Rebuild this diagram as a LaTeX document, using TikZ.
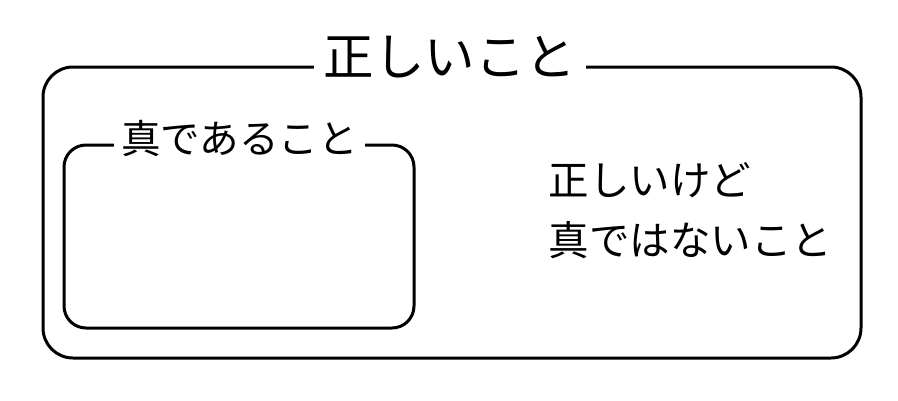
\documentclass[tikz,border=0pt]{standalone}
\usepackage{fontspec}
\setmainfont{Noto Sans CJK JP}
\usetikzlibrary{positioning}

\begin{document}
\begin{tikzpicture}[x=1pt,y=-1pt,
  box/.style={draw,line width=3pt,rounded corners=#1},
  boxtitle/.style={fill=white,inner sep=7pt}]
\useasboundingbox (0,0) rectangle (898,400);
% boxes
\node [box=30pt,minimum width=818pt,minimum height=291pt](right) at (452,212.5){};
\node [box=22pt,minimum width=350pt,minimum height=183pt](true) at (239,236.5){};
% titles
\node [boxtitle,font=\fontsize{50.5}{60}\selectfont,inner sep=10pt](rightlbl) at (450,57){正しいこと};
\node [boxtitle,font=\fontsize{39.5}{46}\selectfont](truelbl) at (239.5,139){真であること};
% text in the outer box
\node [font=\fontsize{40.5}{60}\selectfont,align=left,anchor=west](rest) at (545,211){正しいけど\\真ではないこと};
\end{tikzpicture}
\end{document}
